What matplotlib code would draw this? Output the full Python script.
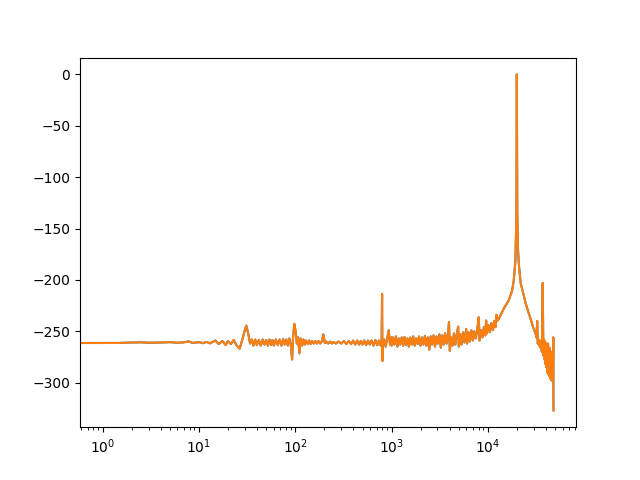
import matplotlib
matplotlib.use("Agg")
import matplotlib.pyplot as plt
import numpy as np

# Spectrum (frequency in Hz, level in dB)
band1_freq = [0, 1, 1.5, 2, 2.5, 3, 4, 5, 6, 7, 7.8, 8.6, 10, 11, 12, 13, 14, 14.9,
              16, 17.5, 19, 20, 21.5, 23, 24.5, 26.5, 28.5, 30, 31.1, 32.5, 34]
band1_db = [-261.5, -261.5, -261.4, -261.0, -260.8, -261.2, -261.0, -260.6, -261.2,
            -260.8, -259.8, -261.4, -260.6, -261.6, -260.4, -261.8, -260.2, -259.0,
            -262.5, -259.5, -263.5, -259.5, -262.5, -258.5, -263.5, -267.0, -257.0,
            -249.0, -244.5, -252.0, -262.0]

band2_freq = [35.5, 37, 38.5, 40, 42, 44, 46, 48, 50, 52, 54, 56, 58, 60, 63, 66, 69, 72,
              75, 78, 81, 84, 87, 90, 92.9, 95, 98, 101, 104, 107, 110.6, 114, 118, 122,
              126, 130, 135, 140, 145, 150, 156, 162, 168, 175, 182, 189, 196, 203, 210,
              220, 230, 240, 250, 265, 280, 300, 320, 340, 360, 380, 400, 420, 440, 460,
              480, 500, 520, 545, 570, 595, 620, 650, 680, 710, 740, 770, 790, 798, 804,
              812, 840, 870, 905, 935, 965, 995]
band2_db = [-258, -264, -258, -263.5, -258.5, -264, -258, -263, -258.5, -264, -258, -263.5,
            -258.5, -264, -258, -263.5, -258, -264, -257.5, -263, -258, -264, -257, -263,
            -277.5, -256, -242.8, -250, -262, -256, -271.5, -257, -264, -258, -263, -259,
            -262.5, -259, -262.5, -259.5, -262, -259.5, -262, -259.5, -262, -260, -253,
            -261.5, -260, -262, -260, -262, -260.5, -262, -260, -262, -259.5, -262.5,
            -259.5, -262.5, -259, -263, -259, -263, -259.5, -263, -259, -263.5, -259, -263,
            -259, -264, -258.5, -263.5, -259, -264, -258, -213.6, -279, -262, -258, -265,
            -256, -249, -263, -256]

band3_freq = [1000, 1035, 1070, 1110, 1150, 1190, 1230, 1275, 1320, 1365, 1415, 1465, 1515,
              1570, 1625, 1680, 1740, 1800, 1865, 1930, 2000, 2070, 2145, 2220, 2300, 2380,
              2465, 2550, 2640, 2730, 2830, 2930, 3030, 3140, 3250, 3360, 3480, 3600, 3730,
              3860, 3950, 4030, 4150, 4300, 4450, 4600, 4760, 4920, 5000, 5150, 5330, 5520,
              5720, 5960, 6100, 6300, 6520, 6750, 6990, 7240, 7500, 7770, 8050, 8200, 8500,
              8800, 9100, 9400, 9600, 9800, 10150, 10500, 10900, 11300, 11700, 12000, 12280,
              12500]
band3_db = [-264, -256, -263, -255, -265, -257, -263, -256, -264, -255.5, -263.5, -257, -265,
            -256, -263, -255, -264, -257, -262.5, -255, -264, -256, -263, -254.5, -264, -256,
            -268, -255, -263, -254, -265, -255, -262, -253, -266, -254, -263, -252, -262,
            -254, -241, -269, -256, -264, -252, -263, -253, -245.5, -265, -253, -263, -251,
            -261, -247.7, -262, -251, -260, -249, -259, -250, -257, -248, -236.4, -259, -249,
            -256, -246, -254, -239.6, -252, -244, -251, -242, -249, -240, -246, -234, -240]

band4_freq = [13000, 13800, 14630, 15500, 16480, 17200, 17870, 18570, 19350, 19820, 20000,
              20200, 20500, 21000, 21440, 22000, 22890, 23700, 24560, 25700, 26700, 27800,
              29500, 31260, 32000, 32520, 33000, 33520, 34100, 34600, 35140, 35700, 36400,
              37150, 37600, 37900, 38100, 38400, 38700, 39000, 39300, 39600, 39900, 40200,
              40570, 40900, 41200, 41500, 41800, 42150, 42550, 42900, 43200, 43550, 43900,
              44250, 44610, 44950, 45300, 45650, 46000, 46400, 46790, 47100, 47400, 47800,
              48000]
band4_db = [-238, -233, -228, -224, -220, -215, -210.4, -200.6, -181, -132.5, 0, -132, -168,
            -185, -194, -204, -210, -216, -222, -228, -233, -238, -246, -252, -256, -240,
            -262, -258, -264, -259, -266, -260, -270, -203, -262, -274, -258, -268, -262,
            -278, -260, -282, -262, -276, -285, -264, -290, -268, -282, -262, -292, -270,
            -284, -266, -294, -272, -296, -275, -286, -270, -298, -276, -292, -280, -296,
            -256, -327]

freq = np.array(band1_freq + band2_freq + band3_freq + band4_freq, dtype=float)
level = np.array(band1_db + band2_db + band3_db + band4_db, dtype=float)

fig, ax = plt.subplots(figsize=(6.4, 4.8), dpi=100)
ax.plot(freq, level, color="C0")
ax.plot(freq, level, color="C1")
ax.set_xscale("log")
ax.set_xlim(0.5834, 82270)
ax.set_ylim(-343.4, 16.35)
fig.savefig("out.png", dpi=100)
